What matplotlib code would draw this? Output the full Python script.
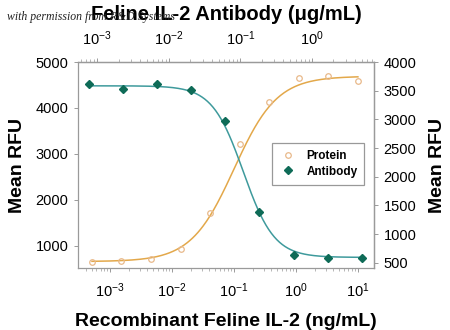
import numpy as np
import matplotlib
matplotlib.use("Agg")
import matplotlib.pyplot as plt
from matplotlib.ticker import LogLocator, NullFormatter

plt.rcParams['font.family'] = ['Liberation Sans', 'DejaVu Sans']
plt.rcParams['mathtext.fontset'] = 'custom'
plt.rcParams['mathtext.rm'] = 'Liberation Sans'
plt.rcParams['mathtext.it'] = 'Liberation Sans:italic'
plt.rcParams['mathtext.bf'] = 'Liberation Sans:bold'

# Protein (bottom x: ng/mL, left y)
protein_conc = [0.000508, 0.00152, 0.00457, 0.0137, 0.0412, 0.123, 0.370, 1.11, 3.33, 10.0]
protein_rfu = [660, 670, 715, 935, 1715, 3215, 4135, 4660, 4700, 4590]
protein_fit = dict(bottom=660, top=4690, ec50=0.10, hill=1.25)

# Antibody (top x: ug/mL, right y)
antibody_conc = [0.00076, 0.00229, 0.00686, 0.0206, 0.0617, 0.185, 0.556, 1.67, 5.0]
antibody_rfu = [3620, 3535, 3620, 3515, 2975, 1385, 630, 585, 585]
antibody_fit = dict(bottom=595, top=3585, ec50=0.11, hill=-2.0)

def four_pl(x, p):
    return p['bottom'] + (p['top'] - p['bottom']) / (1 + (p['ec50'] / x) ** p['hill'])

orange_line = '#E3A84A'
orange_marker = '#E8B98A'
green_line = '#3E9A9C'
green_marker = '#0E6B57'
spine_gray = '#9A9A9A'

fig = plt.figure(figsize=(4.5, 3.3), dpi=100)
rect = [78/450, 62/330, (374-78)/450, (268-62)/330]
ax = fig.add_axes(rect)
ax2 = fig.add_axes(rect, facecolor='none')

# Bottom / left axes: protein
ax.set_xscale('log')
ax.set_xlim(10**-3.52, 10**1.26)
ax.set_ylim(520, 5000)
xs = np.logspace(np.log10(protein_conc[0]), np.log10(protein_conc[-1]), 300)
ax.plot(xs, four_pl(xs, protein_fit), color=orange_line, lw=1.1)
hp, = ax.plot(protein_conc, protein_rfu, 'o', ms=4, mfc='none', mec=orange_marker, mew=0.9, label='Protein')
ax.set_yticks([1000, 2000, 3000, 4000, 5000])
ax.xaxis.set_major_locator(LogLocator(base=10, numticks=10))
ax.xaxis.set_minor_locator(LogLocator(base=10, subs=np.arange(2, 10), numticks=20))
ax.xaxis.set_minor_formatter(NullFormatter())
ax.set_xlabel('Recombinant Feline IL-2 (ng/mL)', fontsize=14, fontweight='bold', labelpad=9)
ax.set_ylabel('Mean RFU', fontsize=14, fontweight='bold', labelpad=7)

# Top / right axes: antibody
ax2.set_xscale('log')
ax2.set_xlim(10**-3.27, 10**0.87)
ax2.set_ylim(410, 4000)
xa = np.logspace(np.log10(antibody_conc[0]), np.log10(antibody_conc[-1]), 300)
ax2.plot(xa, four_pl(xa, antibody_fit), color=green_line, lw=1.1)
ha, = ax2.plot(antibody_conc, antibody_rfu, 'D', ms=3.8, color=green_marker, label='Antibody')
ax2.xaxis.tick_top()
ax2.xaxis.set_label_position('top')
ax2.yaxis.tick_right()
ax2.yaxis.set_label_position('right')
ax2.set_yticks([500, 1000, 1500, 2000, 2500, 3000, 3500, 4000])
ax2.xaxis.set_major_locator(LogLocator(base=10, numticks=10))
ax2.xaxis.set_minor_locator(LogLocator(base=10, subs=np.arange(2, 10), numticks=20))
ax2.xaxis.set_minor_formatter(NullFormatter())
ax2.set_xlabel('Feline IL-2 Antibody (\u03bcg/mL)', fontsize=14.5, fontweight='bold', labelpad=7)
ax2.set_ylabel('Mean RFU', fontsize=14, fontweight='bold', labelpad=9)

for a in (ax, ax2):
    for s in a.spines.values():
        s.set_color(spine_gray)
        s.set_linewidth(0.9)
    a.tick_params(which='major', length=3, width=0.7, color=spine_gray, labelsize=10.5, pad=4)
    a.tick_params(which='minor', length=2, width=0.5, color=spine_gray)
ax.tick_params(axis='x', which='major', pad=7)
ax2.tick_params(axis='x', which='major', pad=7)
ax2.spines['left'].set_visible(False)
ax2.spines['bottom'].set_visible(False)

leg = ax2.legend(handles=[hp, ha], loc='upper left', bbox_to_anchor=((272-78)/296, (268-143)/206),
                 frameon=True, fancybox=False, edgecolor='#808080',
                 prop={'weight': 'bold', 'size': 8.5}, handletextpad=0.8, borderpad=0.6,
                 labelspacing=0.3, handlelength=1.5, borderaxespad=0)
leg.get_frame().set_linewidth(0.9)

fig.text(0.015, 0.948, 'with permission from R&D Systems', fontsize=8.5, style='italic',
         family=['Liberation Serif', 'DejaVu Serif'], color='#222222', va='center', zorder=0)

fig.savefig('out.png', dpi=100)
